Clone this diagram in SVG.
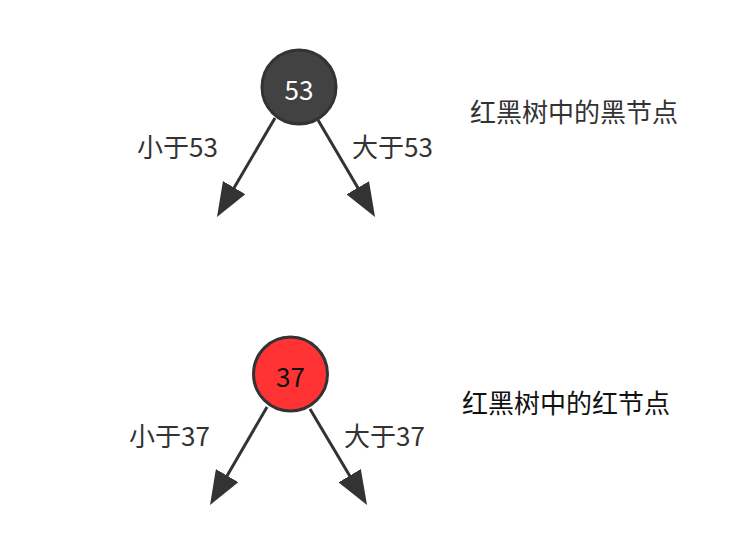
<svg xmlns="http://www.w3.org/2000/svg" width="744" height="554" viewBox="0 0 744 554">
<style>
text{font-family:"Noto Sans CJK SC","Microsoft YaHei",sans-serif;font-size:26px;fill:#333}
.node{stroke:#333;stroke-width:3}
.edge{stroke:#333;stroke-width:3;fill:none;marker-end:url(#ah)}
</style>
<defs>
<marker id="ah" viewBox="0 0 34 26" refX="14" refY="13" markerWidth="34" markerHeight="26" markerUnits="userSpaceOnUse" orient="auto">
<path d="M0,0 L34,13 L0,26 z" fill="#333"/>
</marker>
</defs>
<rect width="744" height="554" fill="#fff"/>
<g id="connectors">
<line class="edge" x1="275" y1="118" x2="227.1" y2="199.7"/>
<line class="edge" x1="318" y1="120" x2="364.9" y2="199.8"/>
<line class="edge" x1="267" y1="407" x2="220.1" y2="487.7"/>
<line class="edge" x1="310" y1="409" x2="356.8" y2="487.8"/>
<text x="137" y="157">小于53</text>
<text x="352" y="157">大于53</text>
<text x="129" y="446">小于37</text>
<text x="344" y="446">大于37</text>
</g>
<g id="node53">
<circle class="node" cx="299" cy="87" r="37" fill="#424242"/>
<text x="299" y="100" text-anchor="middle" style="fill:#fff">53</text>
</g>
<g id="node37">
<circle class="node" cx="290.5" cy="374" r="37" fill="#ff3333"/>
<text x="290.5" y="387" text-anchor="middle" style="fill:#111">37</text>
</g>
<g id="label-black">
<text x="470" y="122">红黑树中的黑节点</text>
</g>
<g id="label-red">
<text x="462" y="413" style="fill:#111">红黑树中的红节点</text>
</g>
</svg>
